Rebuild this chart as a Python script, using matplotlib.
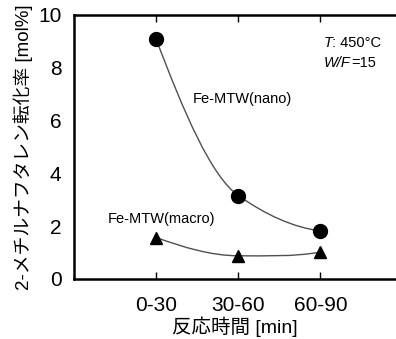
import matplotlib
matplotlib.use("Agg")
import matplotlib.pyplot as plt
from matplotlib.path import Path
from matplotlib.patches import PathPatch
import numpy as np

categories = ["0-30", "30-60", "60-90"]
nano = [9.08, 3.16, 1.82]
macro = [1.57, 0.88, 1.02]
yticks = [0, 2, 4, 6, 8, 10]

plt.rcParams['font.family'] = ['Liberation Sans', 'Noto Sans CJK JP', 'DejaVu Sans']

fig = plt.figure(figsize=(3.96, 3.39), dpi=100)
ax = fig.add_axes([0.187, 0.177, 0.813, 0.779])

x = np.arange(len(categories))


def pchip_path(xs, ys):
    xs = np.asarray(xs, float)
    ys = np.asarray(ys, float)
    n = len(xs)
    h = np.diff(xs)
    d = np.diff(ys) / h
    m = np.zeros(n)
    for i in range(1, n - 1):
        if d[i - 1] * d[i] > 0:
            m[i] = 2 / (1 / d[i - 1] + 1 / d[i])
    m0 = ((2 * h[0] + h[1]) * d[0] - h[0] * d[1]) / (h[0] + h[1])
    m[0] = m0 if m0 * d[0] > 0 else 0
    mn = ((2 * h[-1] + h[-2]) * d[-1] - h[-1] * d[-2]) / (h[-1] + h[-2])
    m[-1] = mn if mn * d[-1] > 0 else d[-1] * 0.3
    verts = [(xs[0], ys[0])]
    codes = [Path.MOVETO]
    for i in range(n - 1):
        dx = h[i] / 3
        verts += [(xs[i] + dx, ys[i] + m[i] * dx),
                  (xs[i + 1] - dx, ys[i + 1] - m[i + 1] * dx),
                  (xs[i + 1], ys[i + 1])]
        codes += [Path.CURVE4] * 3
    return Path(verts, codes)


for series, mk, ms in [(nano, 'o', 10), (macro, '^', 8.5)]:
    ax.add_patch(PathPatch(pchip_path(x, series), facecolor='none',
                           edgecolor='#505050', lw=1.0, zorder=2))
    ax.plot(x, series, linestyle='none', marker=mk, color='black',
            markersize=ms, zorder=3, clip_on=False)

ax.set_xlim(-1.0, 2.92)
ax.set_ylim(0, 10)
ax.set_xticks(x)
ax.set_xticklabels(categories)
ax.set_yticks(yticks)
ax.tick_params(axis='x', direction='in', length=5, width=1, top=True,
               labelsize=15, pad=12)
ax.tick_params(axis='y', length=0, labelsize=15, pad=9)
for s in ['left', 'bottom', 'top']:
    ax.spines[s].set_linewidth(1.8)
ax.spines['right'].set_visible(False)

ax.set_ylabel("2-メチルナフタレン転化率 [mol%]", fontsize=13.5, labelpad=4)
ax.set_xlabel("反応時間 [min]", fontsize=14, labelpad=1)

ax.text(0.37, 0.667, "Fe-MTW(nano)", transform=ax.transAxes, fontsize=10.5)
ax.text(0.106, 0.212, "Fe-MTW(macro)", transform=ax.transAxes, fontsize=10.5)
ax.text(0.776, 0.879, "T", transform=ax.transAxes, fontsize=10.5, style='italic')
ax.text(0.800, 0.879, ": 450°C", transform=ax.transAxes, fontsize=10.5)
ax.text(0.776, 0.803, "W/F", transform=ax.transAxes, fontsize=10.5, style='italic')
ax.text(0.860, 0.803, "=15", transform=ax.transAxes, fontsize=10.5)

fig.savefig("out.png", dpi=100)
